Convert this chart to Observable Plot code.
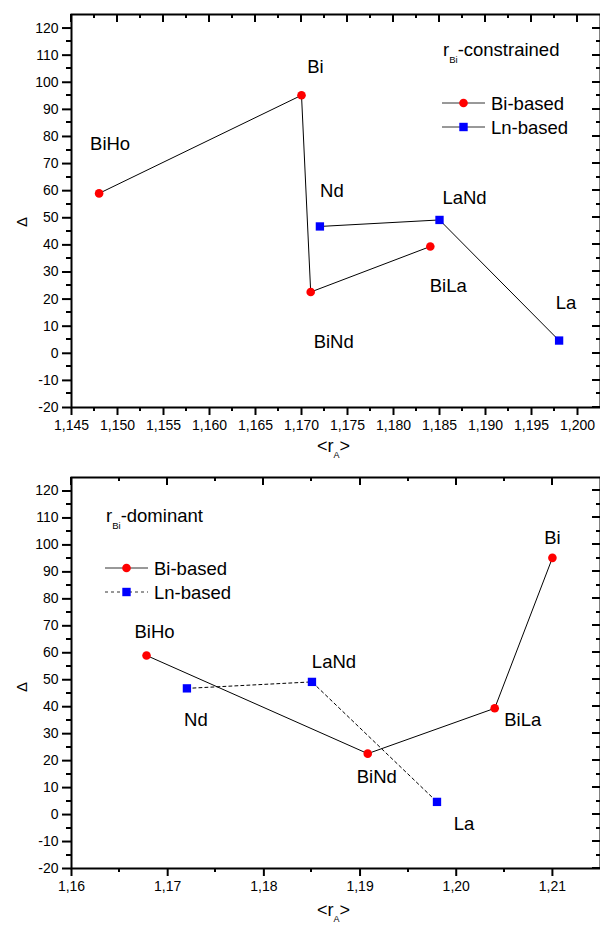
<!DOCTYPE html>
<html><head><meta charset="utf-8">
<script src="https://cdn.jsdelivr.net/npm/d3@7"></script>
<script src="https://cdn.jsdelivr.net/npm/@observablehq/plot@0.6"></script>
<style>
body{margin:0;background:#fff;}
#chart svg{display:block;}
</style>
</head><body><div id="chart"></div>
<script>
// ---------- data ----------
const biNames = ["BiHo", "Bi", "BiNd", "BiLa"];
const biDelta = [59, 95.2, 22.6, 39.4];
const biRA_constrained = [1.148, 1.170, 1.171, 1.184];
const biRA_dominant = [1.1678, 1.210, 1.1908, 1.204];
const lnNames = ["Nd", "LaNd", "La"];
const lnDelta = [46.8, 49.2, 4.7];
const lnRA = [1.172, 1.185, 1.198];

const yMajor = [-20, -10, 0, 10, 20, 30, 40, 50, 60, 70, 80, 90, 100, 110, 120];
const yMinor = [-15, -5, 5, 15, 25, 35, 45, 55, 65, 75, 85, 95, 105, 115];
const xMajorTop = [1.145, 1.150, 1.155, 1.160, 1.165, 1.170, 1.175, 1.180, 1.185, 1.190, 1.195, 1.200];
const xMinorTop = [1.1475, 1.1525, 1.1575, 1.1625, 1.1675, 1.1725, 1.1775, 1.1825, 1.1875, 1.1925, 1.1975];
const xMajorBottom = [1.16, 1.17, 1.18, 1.19, 1.20, 1.21];
const xMinorBottom = [1.165, 1.175, 1.185, 1.195, 1.205];

// ---------- style ----------
const FONT = "'Liberation Sans', Arial, Helvetica, sans-serif";
const LABEL_SIZE = 18.5;
const TICK_W = 2;

// label offsets (px) relative to the point
const offsetsTop = {
  BiHo: [11, -49], Bi: [14, -28], BiNd: [23, 50], BiLa: [18, 40],
  Nd: [12, -35], LaNd: [25, -22], La: [7, -37]
};
const offsetsBottom = {
  BiHo: [8, -23], Bi: [0, -20], BiNd: [9, 23], BiLa: [28, 12],
  Nd: [9, 32], LaNd: [22, -20], La: [27, 22]
};

function makePanel(cfg) {
  const W = 600, ML = 71, MR = 0;
  const bi = biNames.map((n, i) => ({name: n, x: cfg.biX[i], y: biDelta[i]}));
  const biLine = cfg.sortBi ? d3.sort(bi, d => d.x) : bi;
  const ln = lnNames.map((n, i) => ({name: n, x: lnRA[i], y: lnDelta[i]}));
  const all = bi.concat(ln);
  const labelMarks = all.map(d => Plot.text([d], {
    x: "x", y: "y", text: "name",
    dx: cfg.offsets[d.name][0], dy: cfg.offsets[d.name][1],
    fontSize: LABEL_SIZE, fill: "black"
  }));
  const svg = Plot.plot({
    width: W, height: cfg.height,
    marginLeft: ML, marginRight: MR, marginTop: cfg.marginTop, marginBottom: cfg.marginBottom,
    x: {domain: cfg.xDomain},
    y: {domain: [-20, 125]},
    style: {fontFamily: FONT, fontSize: "14px", color: "black", background: "white"},
    marks: [
      Plot.axisY({anchor: "left", ticks: yMajor, tickSize: 9, tickPadding: 4, tickFormat: d => String(d), label: null, fontSize: 14, stroke: "black", strokeWidth: TICK_W}),
      Plot.axisX({anchor: "bottom", ticks: cfg.xMajor, tickSize: 8, tickPadding: 5, tickFormat: cfg.xFmt, label: null, fontSize: 14, stroke: "black", strokeWidth: TICK_W}),
      Plot.frame({stroke: "black", strokeWidth: 2}),
      Plot.line(biLine, {x: "x", y: "y", stroke: "black", strokeWidth: 1}),
      Plot.line(ln, {x: "x", y: "y", stroke: "black", strokeWidth: 1, strokeDasharray: cfg.lnDash}),
      Plot.dot(bi, {x: "x", y: "y", r: 4.3, fill: "#ff0000", stroke: "none"}),
      Plot.dot(ln, {x: "x", y: "y", symbol: "square", r: 4.7, fill: "#0000ff", stroke: "none"}),
      ...labelMarks
    ]
  });

  const s = d3.select(svg);
  const xs = svg.scale("x"), ys = svg.scale("y");
  const x0 = ML, x1 = W - MR;
  const y0 = cfg.marginTop, y1 = cfg.height - cfg.marginBottom;
  const g = s.append("g").attr("stroke", "black").attr("stroke-width", TICK_W)
    .attr("fill", "none").attr("shape-rendering", "crispEdges");
  const seg = (ax, ay, bx, by) => g.append("path").attr("d", `M${ax},${ay}L${bx},${by}`);
  // minor outward ticks (left / bottom)
  yMinor.forEach(v => { const p = ys.apply(v); seg(x0 - 5, p, x0, p); });
  cfg.xMinor.forEach(v => { const p = xs.apply(v); seg(p, y1, p, y1 + 4); });
  // mirrored inward ticks (right / top)
  yMajor.forEach(v => { const p = ys.apply(v); seg(x1 - 8, p, x1, p); });
  yMinor.forEach(v => { const p = ys.apply(v); seg(x1 - 4, p, x1, p); });
  cfg.xMajor.forEach(v => { const p = xs.apply(v); seg(p, y0, p, y0 + 8); });
  cfg.xMinor.forEach(v => { const p = xs.apply(v); seg(p, y0, p, y0 + 4); });

  // y label (Delta)
  s.append("text")
    .attr("transform", `translate(${cfg.yLabel[0]},${cfg.yLabel[1]}) rotate(-90)`)
    .attr("text-anchor", "middle").attr("dominant-baseline", "central")
    .attr("font-family", FONT).attr("font-size", 15).attr("fill", "black")
    .text("Δ");
  // x label <r_A>
  const xl = s.append("text")
    .attr("x", cfg.xLabel[0]).attr("y", cfg.xLabel[1]).attr("text-anchor", "start")
    .attr("font-family", FONT).attr("font-size", 18).attr("fill", "black");
  xl.append("tspan").text("<r");
  xl.append("tspan").attr("font-size", 9).attr("dy", 6).text("A");
  xl.append("tspan").attr("dy", -6).text(">");
  // title r_Bi-...
  const tt = s.append("text")
    .attr("x", cfg.title[0]).attr("y", cfg.title[1]).attr("text-anchor", "start")
    .attr("font-family", FONT).attr("font-size", LABEL_SIZE).attr("fill", "black");
  tt.append("tspan").text("r");
  tt.append("tspan").attr("font-size", 9.5).attr("dy", 7).text("Bi");
  tt.append("tspan").attr("dy", -7).text(cfg.titleText);
  // legend
  const [lx, ly] = cfg.legend;
  const items = [
    {label: "Bi-based", color: "#ff0000", sym: "circle", dash: null},
    {label: "Ln-based", color: "#0000ff", sym: "square", dash: cfg.lnDash}
  ];
  items.forEach((it, i) => {
    const y = ly + i * 24;
    s.append("line").attr("x1", lx).attr("x2", lx + 43).attr("y1", y).attr("y2", y)
      .attr("stroke", "#333").attr("stroke-width", 1)
      .attr("stroke-dasharray", it.dash);
    if (it.sym === "circle") {
      s.append("circle").attr("cx", lx + 21.5).attr("cy", y).attr("r", 4.3).attr("fill", it.color);
    } else {
      s.append("rect").attr("x", lx + 21.5 - 4.2).attr("y", y - 4.2).attr("width", 8.4).attr("height", 8.4).attr("fill", it.color);
    }
    s.append("text").attr("x", lx + 49).attr("y", y).attr("dominant-baseline", "central")
      .attr("text-anchor", "start")
      .attr("font-family", FONT).attr("font-size", LABEL_SIZE).attr("fill", "black")
      .text(it.label);
  });
  return svg;
}

const topPanel = makePanel({
  height: 460, marginTop: 14, marginBottom: 53,
  xDomain: [1.145, 1.2025], xMajor: xMajorTop, xMinor: xMinorTop,
  xFmt: d => d.toFixed(3).replace(".", ","),
  biX: biRA_constrained, sortBi: false, lnDash: null,
  offsets: offsetsTop,
  yLabel: [21, 222], xLabel: [317, 452],
  title: [443, 56], titleText: "-constrained",
  legend: [442, 103]
});
const bottomPanel = makePanel({
  height: 465, marginTop: 17, marginBottom: 57,
  xDomain: [1.16, 1.215], xMajor: xMajorBottom, xMinor: xMinorBottom,
  xFmt: d => d.toFixed(2).replace(".", ","),
  biX: biRA_dominant, sortBi: true, lnDash: "3,3",
  offsets: offsetsBottom,
  yLabel: [21, 227], xLabel: [317, 456],
  title: [106, 62], titleText: "-dominant",
  legend: [105, 108]
});
document.getElementById("chart").append(topPanel, bottomPanel);
</script>
</body></html>
